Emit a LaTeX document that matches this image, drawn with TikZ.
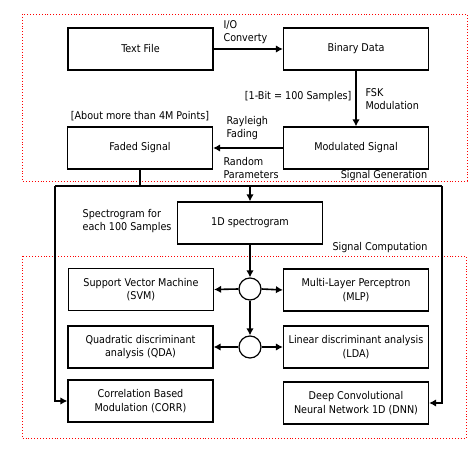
\documentclass[tikz,border=0pt]{standalone}
\usepackage{fontspec}
\setmainfont{DejaVu Sans Condensed}
\usetikzlibrary{arrows.meta}

\tikzset{
  block/.style={draw, line width=1.2pt, minimum width=145pt, minimum height=42pt, align=center, inner sep=2pt},
  junction/.style={draw, circle, line width=1.2pt, minimum size=22pt, inner sep=0pt},
  flow/.style={line width=1.6pt, -{Latex[length=7pt,width=7.5pt]}},
  wire/.style={line width=1.6pt},
  region/.style={draw=red, dotted, line width=0.9pt},
}

\begin{document}
\begin{tikzpicture}[x=1pt, y=-1pt, font=\fontsize{10.7}{13.3}\selectfont]
\useasboundingbox (0,0) rectangle (471,462);

% signal generation
\draw [region] (22,14) rectangle (467,181);
\node [block] (txt) at (140.5,49) {Text File};
\node [block] (bin) at (356,49) {Binary Data};
\node [block] (mod) at (356,148) {Modulated Signal};
\node [block] (fade) at (140,148) {Faded Signal};
\draw [flow] (txt.east) -- (bin.west);
\draw [flow] (bin.south) -- (mod.north);
\draw [flow] (mod.west) -- (fade.east);
\node [anchor=west, align=left] (io) at (220,32) {I/O\\Converty};
\node [anchor=east] (bits) at (355,97) {[1-Bit = 100 Samples]};
\node [anchor=west, align=left] (fsk) at (362,99) {FSK\\Modulation};
\node (pts) at (140,116) {[About more than 4M Points]};
\node [anchor=west, align=left] (ray) at (223,128) {Rayleigh\\Fading};
\node [anchor=west, align=left] (rnd) at (220,168) {Random\\Parameters};
\node (gen) at (384,176) {Signal Generation};

% split
\coordinate (jl) at (55,186);
\coordinate (jr) at (442,186);
\draw [wire] (fade.south) -- (fade.south |- jl);
\draw [wire] (jl) -- (jr);

% signal computation
\node [block] (spec) at (250,223) {1D spectrogram};
\node [anchor=east, align=left] (each) at (175,221) {Spectrogram for\\each 100 Samples};
\node (comp) at (380,248) {Signal Computation};
\draw [region] (22,256) rectangle (466,438);
\node [junction] (c1) at (250,289) {};
\node [junction] (c2) at (250,347) {};
\node [block] (svm) at (141,289.5) {Support Vector Machine\\(SVM)};
\node [block] (mlp) at (356,290) {Multi-Layer Perceptron\\(MLP)};
\node [block] (qda) at (140.5,347) {Quadratic discriminant\\analysis (QDA)};
\node [block] (lda) at (356,347) {Linear discriminant analysis\\(LDA)};
\node [block] (corr) at (140.5,401) {Correlation Based\\Modulation (CORR)};
\node [block] (dnn) at (356,403) {Deep Convolutional\\Neural Network 1D (DNN)};

\draw [flow] (spec.north |- jl) -- (spec.north);
\draw [flow] (spec.south) -- (c1.north);
\draw [flow] (c1.south) -- (c2.north);
\draw [flow] (c1.west) -- (svm.east);
\draw [flow] (c1.east) -- (mlp.west);
\draw [flow] (c2.west) -- (qda.east);
\draw [flow] (c2.east) -- (lda.west);
\draw [flow] (jl) |- (corr.west);
\draw [flow] (jr) |- (dnn.east);

\end{tikzpicture}
\end{document}
